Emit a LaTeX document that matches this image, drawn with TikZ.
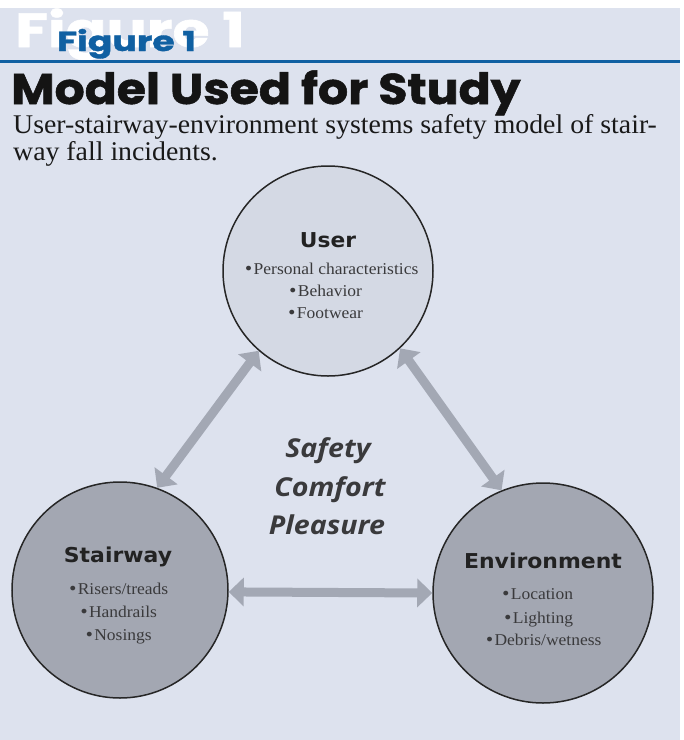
\documentclass[tikz,border=0pt]{standalone}
\usepackage{fontspec}
\setmainfont{Liberation Serif}
\newfontfamily\osans{Open Sans}
\newfontfamily\dsans{DejaVu Sans}
\newfontfamily\heavy{Poppins}[BoldFeatures={FakeBold=1.2}]
\usetikzlibrary{arrows.meta}
\definecolor{bg}{RGB}{221,226,238}
\definecolor{figblue}{RGB}{16,96,162}
\definecolor{userfill}{RGB}{212,217,228}
\definecolor{darkfill}{RGB}{163,167,178}
\definecolor{arrowgray}{RGB}{163,168,180}
\definecolor{txtdark}{RGB}{34,34,34}
\definecolor{txtmid}{RGB}{58,58,60}
\newcommand\bul{{\dsans\fontsize{16}{16}\selectfont\raisebox{-0.6pt}{•}}}
\newcommand\itm[1]{\scalebox{1.06}[1]{\bul#1}}
\begin{document}
\begin{tikzpicture}[x=1pt,y=-1pt,
  circ/.style={circle, draw=black!85, line width=1.5pt, inner sep=0pt},
  conn/.style={draw=arrowgray, line width=9pt,
    {Triangle[width=28pt,length=15pt]}-{Triangle[width=28pt,length=15pt]}},
  ttl/.style={anchor=base, inner sep=0pt, text=txtdark, font=\dsans\bfseries\fontsize{20.5}{20.5}\selectfont},
  item/.style={anchor=base, inner sep=0pt, text=txtmid, font=\fontsize{16.5}{16.5}\selectfont},
  ctr/.style={anchor=base, inner sep=0pt, text=txtmid, font=\osans\bfseries\itshape\fontsize{26}{26}\selectfont},
  sub/.style={anchor=base west, inner sep=0pt, text=black!90, font=\fontsize{27}{27}\selectfont}]
\useasboundingbox (0,0) rectangle (684,740);
\fill[white] (0,0) rectangle (684,740);
\fill[bg] (0,8) rectangle (680,740);
% header
\begin{scope}
\clip (0,8) rectangle (680,59);
\node[anchor=base west, inner sep=0pt, text=white, font=\heavy\bfseries\fontsize{48}{48}\selectfont] (ghost) at (15,47) {\scalebox{1.25}[1]{Figure 1}};
\end{scope}
\node[anchor=base west, inner sep=0pt, text=figblue, font=\heavy\bfseries\fontsize{27.5}{27.5}\selectfont] (fig) at (57,51) {\scalebox{1.32}[1]{Figure 1}};
\fill[figblue] (0,60) rectangle (680,63);
\node[anchor=base west, inner sep=0pt, text=black!92, font=\heavy\bfseries\fontsize{43}{43}\selectfont] (title) at (11,104) {\scalebox{1.1}[1]{Model Used for Study}};
\node[sub] (sub1) at (13,133) {\scalebox{1.03}[1]{User-stairway-environment systems safety model of stair-}};
\node[sub] (sub2) at (13,160) {\scalebox{1.03}[1]{way fall incidents.}};
% circles
\node[circ, fill=userfill, minimum size=210pt] (user) at (328,271) {};
\node[circ, fill=darkfill, minimum size=216pt] (stair) at (120,590) {};
\node[circ, fill=darkfill, minimum size=220pt] (env) at (543,593) {};
% connectors
\draw[conn] (stair.70) -- (user.229);
\draw[conn] (user.313) -- (env.112);
\draw[conn] (stair.-1) -- (env.180);
% user text
\node[ttl] (ut) at (328,247) {\scalebox{1.06}[1]{User}};
\node[item] (u1) at (331,274) {\itm{Personal characteristics}};
\node[item] (u2) at (325,296) {\itm{Behavior}};
\node[item] (u3) at (325,318) {\itm{Footwear}};
% stairway text
\node[ttl] (st) at (118,562) {\scalebox{1.07}[1]{Stairway}};
\node[item] (s1) at (118,594) {\itm{Risers/treads}};
\node[item] (s2) at (118,617) {\itm{Handrails}};
\node[item] (s3) at (118,640) {\itm{Nosings}};
% environment text
\node[ttl] (et) at (543,568) {\scalebox{1.07}[1]{Environment}};
\node[item] (e1) at (537,599) {\itm{Location}};
\node[item] (e2) at (538,623) {\itm{Lighting}};
\node[item] (e3) at (543,645) {\itm{Debris/wetness}};
% center text
\node[ctr] (c1) at (328,457) {\scalebox{1.1}[1]{Safety}};
\node[ctr] (c2) at (330,496) {\scalebox{1.1}[1]{Comfort}};
\node[ctr] (c3) at (327,534) {\scalebox{1.1}[1]{Pleasure}};
\end{tikzpicture}
\end{document}
